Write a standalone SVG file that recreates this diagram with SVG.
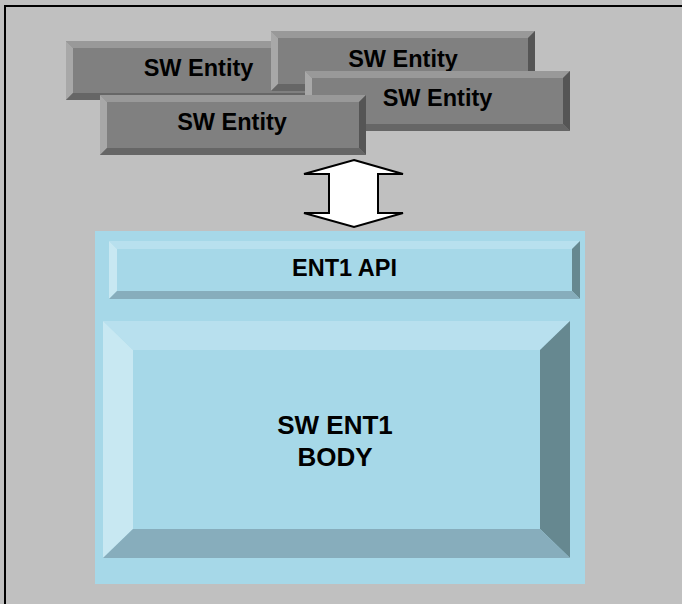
<svg xmlns="http://www.w3.org/2000/svg" width="682" height="604" viewBox="0 0 682 604">
<style>
.gf{fill:#808080}.gt{fill:#999999}.gl{fill:#a8a8a8}.gr{fill:#555555}.gb{fill:#666666}
.bf{fill:#a6d8e8}.bt{fill:#b8e0ee}.bl{fill:#c8e8f2}.br{fill:#668890}.bb{fill:#87adbc}
.t{font-family:"Liberation Sans",Arial,sans-serif;font-weight:bold;fill:#000;text-anchor:middle}
</style>
<rect x="0" y="0" width="682" height="604" fill="#c0c0c0"/>
<path d="M5,604 V6 H682" fill="none" stroke="#000" stroke-width="2"/>
<g id="entityA">
<rect class="gf" x="66" y="41" width="265" height="59"/>
<polygon class="gt" points="66,41 331,41 324,48 73,48"/>
<polygon class="gl" points="66,41 73,48 73,93 66,100"/>
<polygon class="gr" points="331,41 331,100 324,93 324,48"/>
<polygon class="gb" points="66,100 331,100 324,93 73,93"/>
<text class="t" x="198.5" y="76" font-size="23.5">SW Entity</text>
</g>
<g id="entityB">
<rect class="gf" x="271" y="31" width="264" height="60"/>
<polygon class="gt" points="271,31 535,31 528,38 278,38"/>
<polygon class="gl" points="271,31 278,38 278,84 271,91"/>
<polygon class="gr" points="535,31 535,91 528,84 528,38"/>
<polygon class="gb" points="271,91 535,91 528,84 278,84"/>
<text class="t" x="403" y="66.5" font-size="23.5">SW Entity</text>
</g>
<g id="entityC">
<rect class="gf" x="305" y="71" width="265" height="60"/>
<polygon class="gt" points="305,71 570,71 563,78 312,78"/>
<polygon class="gl" points="305,71 312,78 312,124 305,131"/>
<polygon class="gr" points="570,71 570,131 563,124 563,78"/>
<polygon class="gb" points="305,131 570,131 563,124 312,124"/>
<text class="t" x="437.5" y="106" font-size="23.5">SW Entity</text>
</g>
<g id="entityD">
<rect class="gf" x="100" y="95" width="266" height="60"/>
<polygon class="gt" points="100,95 366,95 359,102 107,102"/>
<polygon class="gl" points="100,95 107,102 107,148 100,155"/>
<polygon class="gr" points="366,95 366,155 359,148 359,102"/>
<polygon class="gb" points="100,155 366,155 359,148 107,148"/>
<text class="t" x="232" y="130" font-size="23.5">SW Entity</text>
</g>
<g id="connectors">
<polygon points="354,160 403,174 378,174 378,213 403,213 354,227 304,213 329,213 329,174 304,174" fill="#fff" stroke="#000" stroke-width="2" stroke-linejoin="miter"/>
</g>
<g id="ent1">
<rect class="bf" x="95" y="231" width="490" height="353"/>
<g id="api">
<rect class="bf" x="109" y="241" width="471" height="58"/>
<polygon class="bt" points="109,241 580,241 572,249 117,249"/>
<polygon class="bl" points="109,241 117,249 117,291 109,299"/>
<polygon class="br" points="580,241 580,299 572,291 572,249"/>
<polygon class="bb" points="109,299 580,299 572,291 117,291"/>
<text class="t" x="344.5" y="276" font-size="23.5">ENT1 API</text>
</g>
<g id="body">
<rect class="bf" x="103" y="321" width="467" height="237"/>
<polygon class="bt" points="103,321 570,321 540,350 133,350"/>
<polygon class="bl" points="103,321 133,350 133,529 103,558"/>
<polygon class="br" points="570,321 570,558 540,529 540,350"/>
<polygon class="bb" points="103,558 570,558 540,529 133,529"/>
<text class="t" x="335" y="434" font-size="26">SW ENT1</text>
<text class="t" x="335" y="465.5" font-size="26">BODY</text>
</g>
</g>
</svg>
